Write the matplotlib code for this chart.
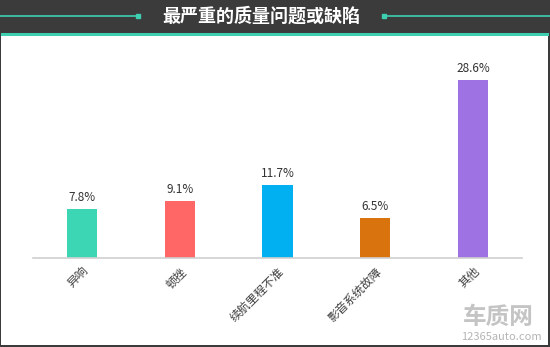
import matplotlib
matplotlib.use('Agg')
import matplotlib.pyplot as plt
from matplotlib.patches import Rectangle
import numpy as np

plt.rcParams['font.family'] = ['Noto Sans CJK SC', 'DejaVu Sans']

categories = ['异响', '顿挫', '续航里程不准', '影音系统故障', '其他']
values = [7.8, 9.1, 11.7, 6.5, 28.6]
colors = ['#3DD6B5', '#FF6666', '#00B0F0', '#D9730D', '#9E72E3']
title = '最严重的质量问题或缺陷'

W, H = 550, 347

fig = plt.figure(figsize=(W / 100, H / 100), dpi=100)
fig.patch.set_facecolor('#3b3b3b')

# white panel and teal band under the header
fig.patches.append(Rectangle((1 / W, 2 / H), 547 / W, 309 / H,
                             transform=fig.transFigure, facecolor='white',
                             edgecolor='none', zorder=0))
fig.patches.append(Rectangle((1 / W, 311 / H), 548 / W, 3 / H,
                             transform=fig.transFigure, facecolor='#3DCFB0',
                             edgecolor='none', zorder=1))

# header decoration
y_line = 1 - 16 / H
fig.add_artist(plt.Line2D([0, 138 / W], [y_line, y_line], color='#3DCFB0',
                          lw=1.2, transform=fig.transFigure))
fig.add_artist(plt.Line2D([384 / W, 1], [y_line, y_line], color='#3DCFB0',
                          lw=1.2, transform=fig.transFigure))
fig.add_artist(plt.Line2D([138 / W], [y_line], marker='s', ms=2.5,
                          color='#3DCFB0', transform=fig.transFigure))
fig.add_artist(plt.Line2D([384 / W], [y_line], marker='s', ms=2.5,
                          color='#3DCFB0', transform=fig.transFigure))
fig.text(261 / W, y_line, title, color='white', fontsize=13,
         fontweight='bold', ha='center', va='center')

# plotting area: x 33..522, baseline at y=258, top at y=40
ax = fig.add_axes([33 / W, 1 - 258 / H, 489 / W, 218 / H])
ax.set_zorder(5)
ax.set_facecolor('none')
x = np.arange(len(categories))
ax.bar(x, values, width=0.31, color=colors, zorder=2)
for xi, v in zip(x, values):
    ax.text(xi, v + 0.8, f'{v}%', ha='center', va='bottom', fontsize=8.5,
            color='#333333')

ax.set_xlim(-0.5, len(categories) - 0.5)
ax.set_ylim(0, 35)
ax.set_yticks([])
ax.set_xticks(x)
ax.set_xticklabels(categories, rotation=45, ha='right',
                   rotation_mode='anchor', fontsize=8.5, color='#404040')
ax.tick_params(axis='x', length=0, pad=5)
for s in ['top', 'right', 'left']:
    ax.spines[s].set_visible(False)
ax.spines['bottom'].set_color('#d0d0d0')
ax.spines['bottom'].set_linewidth(1.2)

# watermark
fig.text(498 / W, 1 - 317 / H, '车质网', fontsize=17, fontweight='bold',
         color='#c4c4c4', ha='center', va='center')
fig.text(501 / W, 1 - 337 / H, '12365auto.com', fontsize=8,
         color='#b4b4b4', ha='center', va='center')

fig.savefig('out.png', dpi=100, facecolor=fig.get_facecolor())
